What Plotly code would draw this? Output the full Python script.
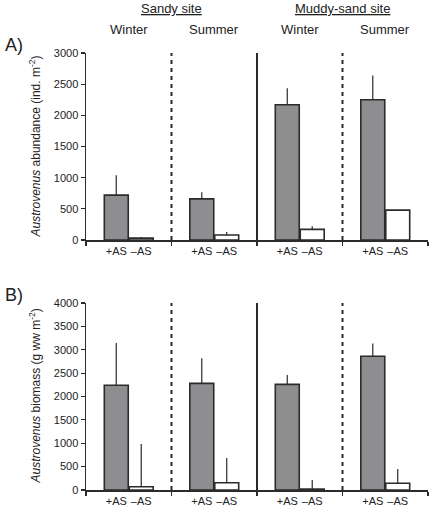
import plotly.graph_objects as go

# ---- data ----
seasons = ["Winter", "Summer", "Winter", "Summer"]
sites = ["Sandy site", "Muddy-sand site"]
treat_labels = ["+AS", "–AS"]

abund_plus = [720, 660, 2170, 2250]
abund_plus_err = [320, 105, 265, 390]
abund_minus = [30, 80, 170, 480]
abund_minus_err = [20, 50, 50, 0]

biom_plus = [2240, 2280, 2260, 2860]
biom_plus_err = [905, 540, 200, 275]
biom_minus = [70, 155, 20, 145]
biom_minus_err = [915, 530, 195, 305]

abund_ticks = [0, 500, 1000, 1500, 2000, 2500, 3000]
biom_ticks = [0, 500, 1000, 1500, 2000, 2500, 3000, 3500, 4000]

# ---- layout constants ----
W, H = 432, 506
OFF = 0.146
BW = 0.28
GRAY = "#8e8e90"
EDGE = "#2b2b2b"
FONT = "Liberation Sans, Arial, sans-serif"

idx = list(range(len(seasons)))
x_plus = [i - OFF for i in idx]
x_minus = [i + OFF for i in idx]

fig = go.Figure()

def add_panel(plus, plus_err, minus, minus_err, xa, ya):
    fig.add_trace(go.Bar(
        x=x_plus, y=plus, width=BW, xaxis=xa, yaxis=ya,
        marker=dict(color=GRAY, line=dict(color=EDGE, width=1.6)),
        error_y=dict(type="data", symmetric=False, array=plus_err,
                     arrayminus=[0] * len(plus), width=0, thickness=1.2, color=EDGE),
        showlegend=False, hoverinfo="skip"))
    fig.add_trace(go.Bar(
        x=x_minus, y=minus, width=BW, xaxis=xa, yaxis=ya,
        marker=dict(color="white", line=dict(color=EDGE, width=1.6)),
        error_y=dict(type="data", symmetric=False, array=minus_err,
                     arrayminus=[0] * len(minus), width=0, thickness=1.2, color=EDGE),
        showlegend=False, hoverinfo="skip"))

add_panel(abund_plus, abund_plus_err, abund_minus, abund_minus_err, "x", "y")
add_panel(biom_plus, biom_plus_err, biom_minus, biom_minus_err, "x2", "y2")

x_dom = [86 / W, 428 / W]
a_dom = [1 - 240 / H, 1 - 53 / H]
b_dom = [1 - 490 / H, 1 - 303 / H]

tickvals = []
ticktext = []
for i in idx:
    tickvals += [i - OFF, i + OFF]
    ticktext += treat_labels

xcommon = dict(range=[-0.5, 3.5], showgrid=False, zeroline=False,
               showline=True, linecolor=EDGE, linewidth=1.5,
               tickmode="array", tickvals=tickvals, ticktext=ticktext,
               ticks="", tickfont=dict(family=FONT, size=11, color="#222"),
               minor=dict(tickmode="array", tickvals=[-0.5, 0.5, 1.5, 2.5, 3.5],
                          ticks="outside", ticklen=4, tickcolor=EDGE, tickwidth=1.2),
               automargin=False, fixedrange=True)
ycommon = dict(showgrid=False, zeroline=False, showline=True, linecolor=EDGE,
               linewidth=1.5, ticks="outside", ticklen=4, tickcolor=EDGE,
               tickwidth=1.2, tickfont=dict(family=FONT, size=11, color="#222"),
               automargin=False, fixedrange=True)

fig.update_layout(
    template="none",
    width=W, height=H, margin=dict(l=0, r=0, t=0, b=0, pad=0),
    paper_bgcolor="white", plot_bgcolor="white",
    barmode="overlay", bargap=0,
    font=dict(family=FONT, color="#222"),
    xaxis=dict(domain=x_dom, anchor="y", **xcommon),
    yaxis=dict(domain=a_dom, range=[0, 3000], tickvals=abund_ticks, anchor="x", **ycommon),
    xaxis2=dict(domain=x_dom, anchor="y2", **xcommon),
    yaxis2=dict(domain=b_dom, range=[0, 4000], tickvals=biom_ticks, anchor="x2", **ycommon),
)

# dividers
for ya in ["y", "y2"]:
    xa = "x" if ya == "y" else "x2"
    for pos, dash in [(0.5, "4px,4px"), (1.5, "solid"), (2.5, "4px,4px")]:
        fig.add_shape(type="line", xref=xa, yref=f"{ya} domain", x0=pos, x1=pos,
                      y0=0, y1=1, line=dict(color=EDGE, width=2, dash=dash))

ann = []
# site headers
for s, xc in zip(sites, [0.5, 2.5]):
    ann.append(dict(text=f"<u>{s}</u>", x=xc, xref="x", y=1 - 8 / H, yref="paper",
                    xanchor="center", yanchor="middle", showarrow=False,
                    font=dict(size=13, family=FONT, color="#222")))
for s, xc in zip(seasons, idx):
    ann.append(dict(text=s, x=xc, xref="x", y=1 - 29 / H, yref="paper",
                    xanchor="center", yanchor="middle", showarrow=False,
                    font=dict(size=13, family=FONT, color="#222")))
# panel letters
ann.append(dict(text="A)", x=3 / W, xanchor="left", y=1 - 45 / H, yanchor="middle",
                yref="paper", xref="paper", showarrow=False,
                font=dict(size=18, family=FONT, color="#222")))
ann.append(dict(text="B)", x=3 / W, xanchor="left", y=1 - 295 / H, yanchor="middle",
                yref="paper", xref="paper", showarrow=False,
                font=dict(size=18, family=FONT, color="#222")))
# y titles
ann.append(dict(text="<i>Austrovenus</i> abundance (ind. m<sup>-2</sup>)",
                x=34 / W, y=sum(a_dom) / 2, xref="paper", yref="paper",
                xanchor="center", yanchor="middle",
                textangle=-90, showarrow=False,
                font=dict(size=12, family=FONT, color="#222")))
ann.append(dict(text="<i>Austrovenus</i> biomass (g ww m<sup>-2</sup>)",
                x=34 / W, y=sum(b_dom) / 2, xref="paper", yref="paper",
                xanchor="center", yanchor="middle",
                textangle=-90, showarrow=False,
                font=dict(size=12, family=FONT, color="#222")))
fig.update_layout(annotations=ann)

fig.write_html("out.html", config={"displayModeBar": False, "staticPlot": True},
               post_script="document.body.style.margin='0';")
